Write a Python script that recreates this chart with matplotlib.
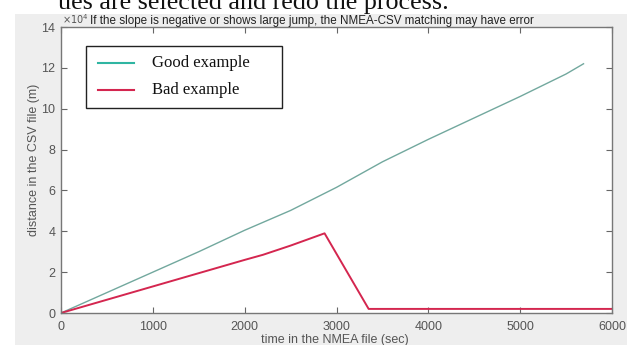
import matplotlib
matplotlib.use("Agg")
import matplotlib.pyplot as plt
from matplotlib.patches import Rectangle
from matplotlib.lines import Line2D

# Distance along the CSV track vs NMEA time
good_t = [0, 500, 1000, 1500, 2000, 2500, 3000, 3500, 4000, 4500, 5000, 5500, 5690]
good_d = [0, 1.0e4, 2.0e4, 3.0e4, 4.05e4, 5.02e4, 6.15e4, 7.4e4, 8.5e4, 9.55e4, 10.6e4, 11.7e4, 12.2e4]

bad_t = [0, 500, 1000, 1500, 2000, 2200, 2500, 2870, 3350, 6000]
bad_d = [0, 0.65e4, 1.3e4, 1.95e4, 2.6e4, 2.85e4, 3.3e4, 3.9e4, 0.2e4, 0.2e4]

x_ticks = [0, 1000, 2000, 3000, 4000, 5000, 6000]
y_ticks = [0, 2e4, 4e4, 6e4, 8e4, 10e4, 12e4, 14e4]
y_tick_labels = ["0", "2", "4", "6", "8", "10", "12", "14"]

W, H = 627, 345
fig = plt.figure(figsize=(W / 100, H / 100), dpi=100, facecolor="white")

def fx(px):
    return px / W

def fy(py):
    return 1 - py / H

# light gray page region behind the plot
fig.patches.append(Rectangle((fx(15), 0), 1 - fx(15), fy(14),
                             transform=fig.transFigure, facecolor="#eeeeee",
                             edgecolor="none", zorder=-10))

# clipped line of document text above the figure
fig.text(fx(58), fy(8.5), "ues are selected and redo the process.",
         family="Liberation Serif", fontsize=18.8, color="#111111",
         ha="left", va="baseline")

left, right, top, bottom = 61, 612, 27, 313
ax = fig.add_axes([fx(left), fy(bottom), (right - left) / W, (bottom - top) / H])
ax.set_facecolor("white")

good_color = "#72a89e"
bad_color = "#d4264f"
ax.plot(good_t, good_d, color=good_color, lw=1.0)
ax.plot(bad_t, bad_d, color=bad_color, lw=1.4)

ax.set_xlim(0, 6000)
ax.set_ylim(0, 14e4)
ax.set_xticks(x_ticks)
ax.set_xticklabels([str(v) for v in x_ticks])
ax.set_yticks(y_ticks)
ax.set_yticklabels(y_tick_labels)
ax.tick_params(direction="in", top=True, right=True, length=4, width=0.8,
               colors="#666666", labelcolor="#555555", labelsize=9)
ax.tick_params(axis="x", pad=6)
ax.tick_params(axis="y", pad=4)
for lab in ax.get_xticklabels() + ax.get_yticklabels():
    lab.set_family("Liberation Sans")
for s in ax.spines.values():
    s.set_color("#777777")
    s.set_linewidth(1.0)

ax.set_xlabel("time in the NMEA file (sec)", family="Liberation Sans",
              fontsize=9, color="#555555")
ax.xaxis.set_label_coords(0.497, -(334 - bottom) / (bottom - top))
ax.set_ylabel("distance in the CSV file (m)", family="Liberation Sans",
              fontsize=9, color="#555555")
ax.yaxis.set_label_coords(-(61 - 40) / (right - left), (bottom - 160) / (bottom - top))

fig.text(fx(62), fy(24), r"$\times10^4$", fontsize=7,
         color="#555555", ha="left", va="baseline")
fig.text(fx(90), fy(24),
         "If the slope is negative or shows large jump, the NMEA-CSV matching may have error",
         family="Liberation Sans", fontsize=8.4, color="#222222",
         ha="left", va="baseline")

# legend: framed box with line samples and serif labels
fig.patches.append(Rectangle((fx(86), fy(108)), (282 - 86) / W, (108 - 46) / H,
                             transform=fig.transFigure, facecolor="white",
                             edgecolor="#222222", linewidth=1.0, zorder=5))
entries = [("Good example", "#2fb5a2", 1.5, 63), ("Bad example", bad_color, 1.5, 90)]
for label, color, lw, ypx in entries:
    fig.lines.append(Line2D([fx(98), fx(134)], [fy(ypx), fy(ypx)],
                            transform=fig.transFigure, color=color, lw=lw, zorder=6))
    fig.text(fx(152), fy(ypx), label, family="Liberation Serif", fontsize=12,
             color="#111111", ha="left", va="center", zorder=6)

fig.savefig("out.png", dpi=100, facecolor=fig.get_facecolor())
